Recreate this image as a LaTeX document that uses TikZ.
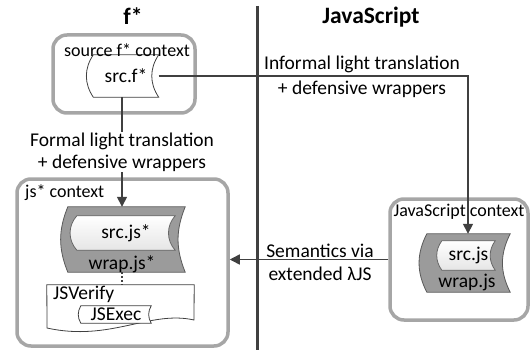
\documentclass[tikz,border=0pt]{standalone}
\usepackage{fontspec}
\setmainfont{Carlito}
\usetikzlibrary{arrows.meta,backgrounds}

\definecolor{boxgray}{RGB}{166,166,166}
\definecolor{linegray}{RGB}{64,64,64}
\definecolor{tapegray}{RGB}{155,155,155}

\begin{document}
\begin{tikzpicture}[x=1pt,y=-1pt,
    font=\fontsize{19.5}{22}\selectfont,
    ctxbox/.style={draw=boxgray,line width=3.5pt,rounded corners=14pt,inner sep=0pt},
    ctxlabel/.style={font=\fontsize{18}{20}\selectfont,inner sep=0pt},
    title/.style={font=\bfseries\fontsize{23.5}{26}\selectfont},
    tapenode/.style={inner sep=0pt},
    tapewhite/.style={draw=linegray,line width=0.8pt,fill=white},
    tapedark/.style={draw=black!65,line width=0.8pt,fill=tapegray},
    tapeinner/.style={draw=black!60,line width=0.8pt,top color=white,bottom color=black!10},
    flow/.style={draw=linegray,line width=1.5pt,-{Triangle[length=10pt,width=10pt]}},
    divider/.style={draw=black!75,line width=3pt}]
    \useasboundingbox (0,0) rectangle (532,350);

    % Titoli e separatore
    \node[title] (fstar) at (133,16) {f*};
    \node[title] (jstitle) at (371,17) {JavaScript};
    \coordinate (divtop) at (257,6);
    \coordinate (divbot) at (257,350);
    \draw[divider] (divtop) -- (divbot);

    % Contesti
    \node[ctxbox,minimum width=142pt,minimum height=78pt] (srcctx) at (124,74) {};
    \node[ctxbox,minimum width=211pt,minimum height=167pt] (jsctx) at (122.5,262.5) {};
    \node[ctxbox,minimum width=138pt,minimum height=121pt] (jsrtctx) at (459,259.5) {};
    \node[ctxlabel] (srcctxlbl) at (127,50) {source f* context};
    \node[ctxlabel,anchor=west] (jsctxlbl) at (25,193) {js* context};
    \node[ctxlabel] (jsrtctxlbl) at (459,212) {JavaScript context};

    % Nastri
    \node[tapenode,minimum width=65pt,minimum height=42pt] (srcf) at (126,76) {src.f*};
    \node[tapenode,minimum width=117pt,minimum height=65pt] (srcjsout) at (126.5,239.5) {};
    \node[tapenode,minimum width=98pt,minimum height=34pt] (srcjsin) at (126,233) {src.js*};
    \node[inner sep=0pt] (wrapjsstar) at (122,264) {wrap.js*};
    \node[tapenode,minimum width=83pt,minimum height=58pt] (jsout) at (468.5,263) {};
    \node[tapenode,minimum width=53pt,minimum height=29pt] (jsin) at (468.5,255.5) {src.js};
    \node[inner sep=0pt] (wrapjs) at (467,282) {wrap.js};

    % JSVerify
    \node[tapenode,minimum width=147pt,minimum height=42pt] (jsverify) at (120.5,306) {};
    \node[inner sep=0pt,anchor=north west] (jsverifylbl) at (53,286) {JSVerify};
    \node[tapenode,minimum width=70pt,minimum height=17pt] (jsexec) at (116,314.5) {JSExec};

    \begin{scope}[on background layer]
        \draw[draw=linegray,line width=0.8pt,fill=white] (jsverify.north west) -- (jsverify.north east)
            -- (194,320) .. controls (150,310) and (110,342) .. (47,328) -- cycle;
        \foreach \n/\b/\st in {srcf/34/tapewhite,srcjsout/22/tapedark,srcjsin/42/tapeinner,
                jsout/27/tapedark,jsin/36/tapeinner,jsexec/30/tapewhite} {
            \draw[\st] (\n.north west) to[bend right=\b] (\n.south west) -- (\n.south east)
                to[bend left=\b] (\n.north east) -- cycle;
        }
    \end{scope}

    % Collegamenti
    \coordinate (corner) at (468,76);
    \draw[flow] (srcf.east) -- (corner) -- (jsout.north -| corner);
    \node[align=center,inner sep=0pt] (informal) at (362,77) {Informal light translation\\[3pt]+ defensive wrappers};
    \draw[flow] (srcf.south -| 122,0) -- node[fill=white,align=center,inner sep=1pt] (formal)
        {Formal light translation\\+ defensive wrappers} (srcjsout.north -| 122,0);
    \draw[flow] (jsrtctx.west) -- (jsrtctx.west -| jsctx.east);
    \node[align=center,inner sep=0pt] (semantics) at (320,262) {Semantics via\\[1pt]extended λJS};
    \draw[draw=linegray,line width=1.5pt,dash pattern=on 2pt off 2pt] (wrapjsstar.south |- srcjsout.south) -- (wrapjsstar.south |- jsverify.north);
\end{tikzpicture}
\end{document}
